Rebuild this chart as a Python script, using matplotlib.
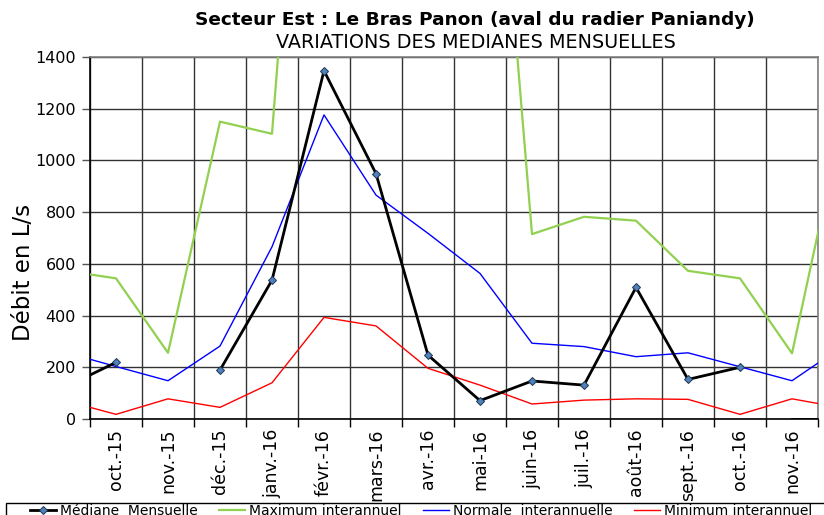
import numpy as np
import matplotlib
matplotlib.use("Agg")
import matplotlib.pyplot as plt
from matplotlib.patches import Rectangle

# Months (first and last are just outside the visible window)
months = ["sept.-15", "oct.-15", "nov.-15", "déc.-15", "janv.-16", "févr.-16", "mars-16",
          "avr.-16", "mai-16", "juin-16", "juil.-16", "août-16", "sept.-16", "oct.-16",
          "nov.-16", "déc.-16"]

nan = np.nan
mediane = [121, 219, nan, 189, 537, 1347, 949, 247, 71, 147, 131, 509, 153, 200, nan, nan]
mediane_fin = [nan, nan, nan, nan, nan, nan, nan, nan, nan, nan, nan, nan, nan, nan, 0, 0]
maximum = [574, 544, 256, 1150, 1103, 3680, 3400, 3300, 3150, 715, 782, 767, 573, 544, 254, 1185]
normale = [259, 203, 148, 282, 666, 1176, 866, 718, 563, 293, 280, 241, 256, 202, 148, 285]
minimum = [72, 18, 78, 45, 140, 393, 360, 196, 131, 58, 73, 78, 76, 18, 78, 42]

title1 = "Secteur Est : Le Bras Panon (aval du radier Paniandy)"
title2 = "VARIATIONS DES MEDIANES MENSUELLES"
ylabel = "Débit en L/s"
labels = ["Médiane  Mensuelle", "Maximum interannuel", "Normale  interannuelle", "Minimum interannuel"]

plt.rcParams['font.family'] = ['DejaVu Sans']

fig = plt.figure(figsize=(8.24, 5.15), dpi=100)
ax = fig.add_axes([90/824, 1-419/515, (818-90)/824, (419-57)/515])

x = np.arange(len(months)) - 1  # sept.-15 at -1

l_med, = ax.plot(x, mediane, color='black', lw=2, marker='D', markersize=4.5,
                 markerfacecolor='#4F81BD', markeredgecolor='#1F3550', markeredgewidth=0.7,
                 zorder=5)
ax.plot(x, mediane_fin, color='black', lw=2, zorder=5, clip_on=True)
l_max, = ax.plot(x, maximum, color='#92D050', lw=1.6, zorder=4)
l_nor, = ax.plot(x, normale, color='#0000FF', lw=1.0, zorder=4)
l_min, = ax.plot(x, minimum, color='#FF0000', lw=1.0, zorder=4)

ax.set_xlim(-0.5, 13.5)
ax.set_ylim(0, 1400)
ax.set_yticks(np.arange(0, 1401, 200))
ax.set_xticks(np.arange(0, 14))
ax.set_xticklabels(months[1:15], rotation=90, fontsize=12.5)
ax.set_xticks(np.arange(-0.5, 13.6, 1), minor=True)
ax.tick_params(axis='x', which='major', length=0, pad=7)
ax.tick_params(axis='x', which='minor', length=6, width=1, color='black', direction='out')
ax.tick_params(axis='y', which='major', length=6, width=1, color='#555555', labelsize=11.5, pad=4)

ax.grid(True, axis='y', which='major', color='#333333', lw=1)
ax.grid(True, axis='x', which='minor', color='#333333', lw=1)
ax.set_axisbelow(True)

for s in ['top', 'right']:
    ax.spines[s].set_color('#808080')
    ax.spines[s].set_linewidth(1.2)
for s in ['left', 'bottom']:
    ax.spines[s].set_color('black')
    ax.spines[s].set_linewidth(1.2)

ax.set_ylabel(ylabel, fontsize=16.5)
ax.yaxis.set_label_coords((35-90)/728, (419-272)/362)

fig.text(475/824, 1-20/515, title1, ha='center', va='center', fontsize=13.3, fontweight='bold')
fig.text(476/824, 1-43/515, title2, ha='center', va='center', fontsize=13.8)

leg = fig.legend([l_med, l_max, l_nor, l_min], labels, ncol=4, loc='upper left',
                 bbox_to_anchor=(30/824, 1-504/515, (812-30)/824, 0.0),
                 bbox_transform=fig.transFigure, mode='expand',
                 fontsize=10, frameon=False,
                 handlelength=1.9, handletextpad=0.25, columnspacing=1.0,
                 borderpad=0.0, borderaxespad=0)

fig.patches.append(Rectangle((6/824, -0.05), 1.0, 1-503/515 + 0.05, transform=fig.transFigure,
                             fill=False, edgecolor='black', lw=1.0))

fig.savefig("out.png", dpi=100)
